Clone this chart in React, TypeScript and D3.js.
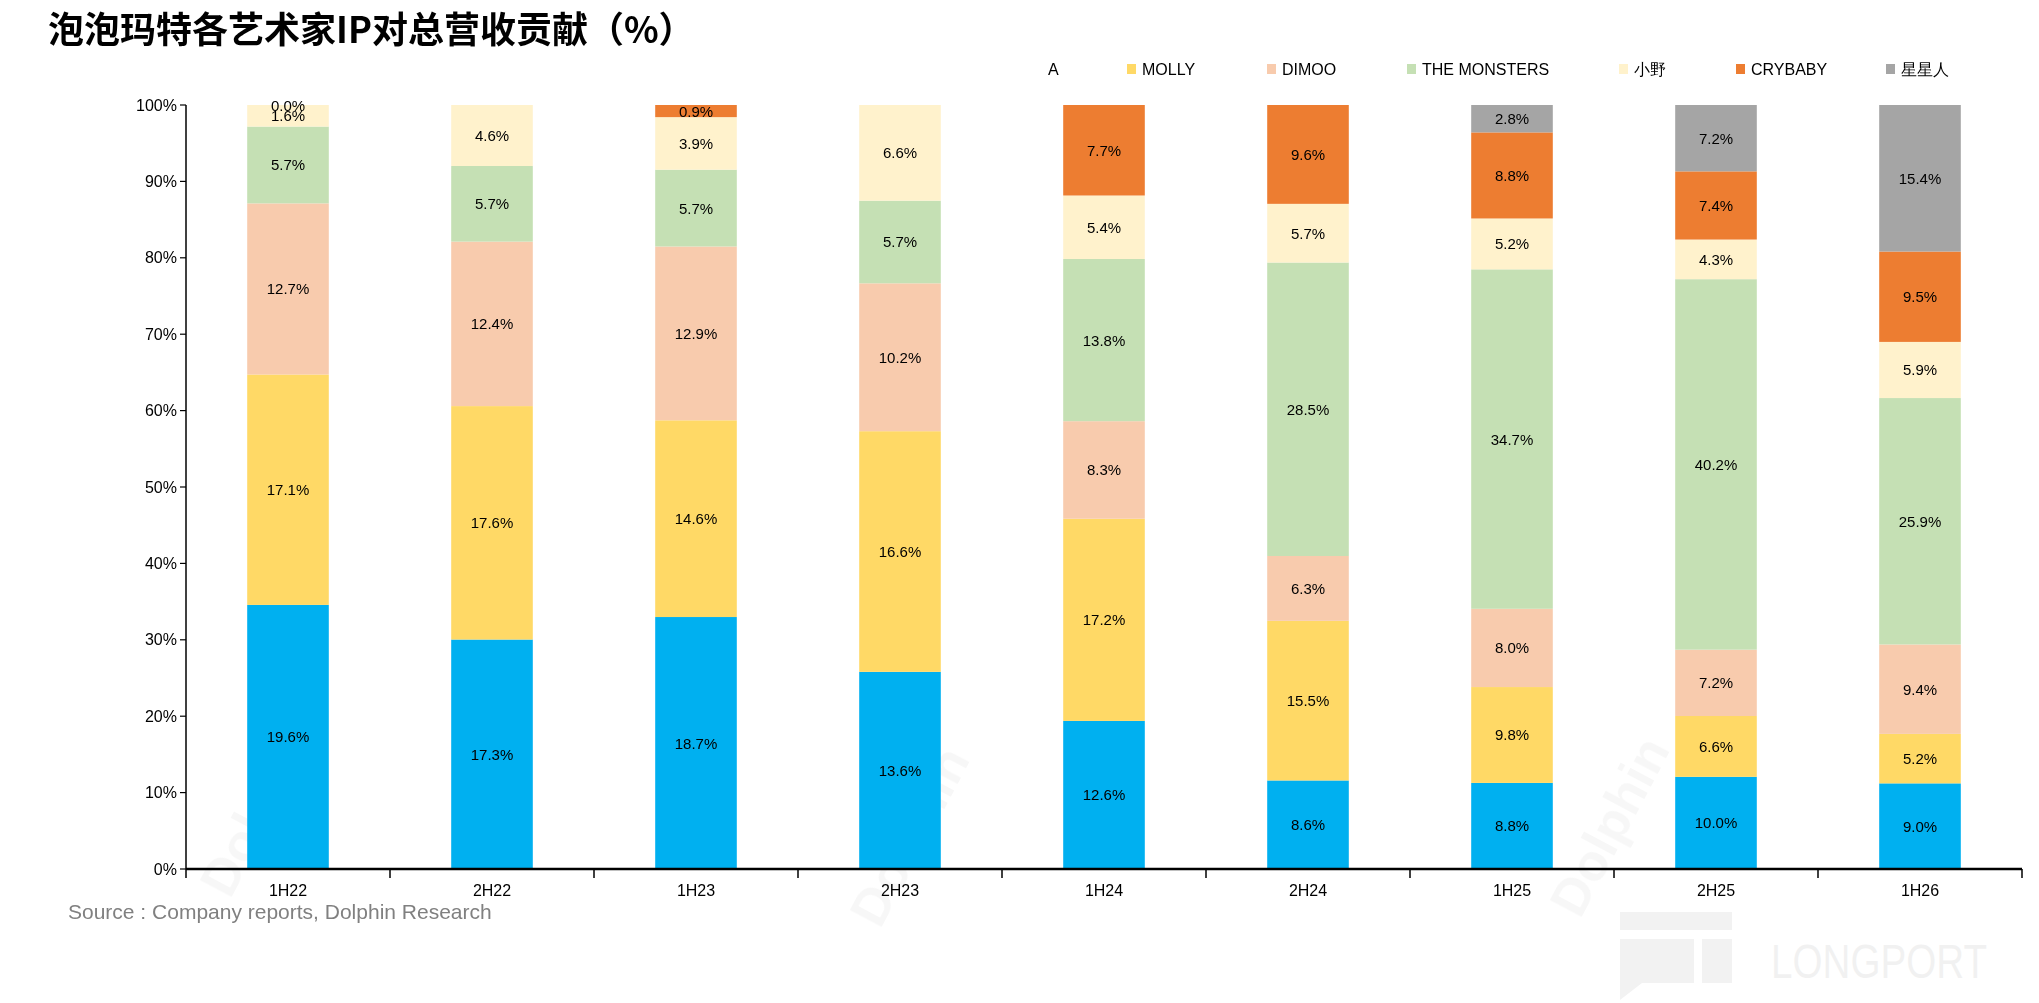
import React from "react";
import * as d3 from "d3";

const title = "泡泡玛特各艺术家IP对总营收贡献（%）";
const source = "Source : Company reports, Dolphin Research";
const categories = ["1H22", "2H22", "1H23", "2H23", "1H24", "2H24", "1H25", "2H25", "1H26"];
const seriesNames = ["A", "MOLLY", "DIMOO", "THE MONSTERS", "小野", "CRYBABY", "星星人"];
const colors = ["#00B0F0", "#FFD966", "#F8CBAD", "#C5E0B4", "#FFF2CC", "#ED7D31", "#A5A5A5"];
const labubu = [19.6, 17.3, 18.7, 13.6, 12.6, 8.6, 8.8, 10.0, 9.0];
const molly = [17.1, 17.6, 14.6, 16.6, 17.2, 15.5, 9.8, 6.6, 5.2];
const dimoo = [12.7, 12.4, 12.9, 10.2, 8.3, 6.3, 8.0, 7.2, 9.4];
const monsters = [5.7, 5.7, 5.7, 5.7, 13.8, 28.5, 34.7, 40.2, 25.9];
const xiaoye = [1.6, 4.6, 3.9, 6.6, 5.4, 5.7, 5.2, 4.3, 5.9];
const crybaby: (number | null)[] = [0.0, null, 0.9, null, 7.7, 9.6, 8.8, 7.4, 9.5];
const xingxingren: (number | null)[] = [null, null, null, null, null, null, 2.8, 7.2, 15.4];
const yTicks = [0, 10, 20, 30, 40, 50, 60, 70, 80, 90, 100];

const seriesData: (number | null)[][] = [labubu, molly, dimoo, monsters, xiaoye, crybaby, xingxingren];

const W = 2039;
const H = 1003;
const left = 186, right = 2022, top = 105, bottom = 869;

export default function App() {
  const x = d3.scaleBand<string>().domain(categories).range([left, right]).paddingInner(0.6).paddingOuter(0.3);
  const y = d3.scaleLinear().domain([0, 100]).range([bottom, top]);

  const rows = categories.map((c, i) => {
    const row: Record<string, number> = {};
    const total = d3.sum(seriesData, (s) => s[i] ?? 0);
    seriesNames.forEach((n, k) => {
      row[n] = ((seriesData[k][i] ?? 0) / total) * 100;
    });
    return row;
  });
  const stack = d3.stack<Record<string, number>>().keys(seriesNames);
  const stacked = stack(rows);

  const font = "'Liberation Sans', Arial, Helvetica, sans-serif";
  const step = x.step();

  const legendX = [1048, 1127, 1267, 1407, 1619, 1736, 1886];

  return (
    <svg width={W} height={H} style={{ display: "block", position: "absolute", left: 0, top: 0, background: "#fff" }}>
      {/* watermarks */}
      <g fill="#000" opacity={0.035} fontFamily={font} fontWeight="bold">
        {[[230, 900], [880, 930], [1580, 920]].map(([wx, wy], i) => (
          <text key={i} x={wx} y={wy} fontSize={52} transform={`rotate(-62 ${wx} ${wy})`}>Dolphin</text>
        ))}
      </g>
      <g opacity={0.05} fill="#000">
        <rect x={1620} y={912} width={112} height={18} />
        <rect x={1620} y={939} width={74} height={44} />
        <rect x={1702} y={939} width={30} height={44} />
        <path d="M1620,983 L1620,1000 L1642,983 Z" />
      </g>
      <text x={1771} y={978} fontFamily={font} fontSize={48} textLength={216} lengthAdjust="spacingAndGlyphs" fill="#000" opacity={0.05}>LONGPORT</text>

      {/* title */}
      <text x={48} y={43} fontFamily="'Noto Sans CJK SC', sans-serif" fontWeight="bold" fontSize={36} fill="#000">{title}</text>

      {/* legend */}
      <g fontFamily={font} fontSize={16} fill="#000">
        {seriesNames.map((n, k) => (
          <g key={n}>
            {k > 0 && <rect x={legendX[k]} y={64} width={9} height={10} fill={colors[k]} />}
            <text x={k > 0 ? legendX[k] + 15 : legendX[k]} y={69} dominantBaseline="central">{n}</text>
          </g>
        ))}
      </g>

      {/* bars */}
      {stacked.map((layer, k) => (
        <g key={layer.key} fill={colors[k]}>
          {layer.map((d, i) =>
            seriesData[k][i] === null ? null : (
              <rect key={i} x={x(categories[i])!} width={x.bandwidth()} y={y(d[1])} height={Math.max(0, y(d[0]) - y(d[1]))} />
            )
          )}
        </g>
      ))}
      {/* labels */}
      <g fontFamily={font} fontSize={15} fill="#000" textAnchor="middle">
        {stacked.map((layer, k) =>
          layer.map((d, i) =>
            seriesData[k][i] === null ? null : (
              <text key={`${k}-${i}`} x={x(categories[i])! + x.bandwidth() / 2} y={y((d[0] + d[1]) / 2)} dominantBaseline="central">
                {(seriesData[k][i] as number).toFixed(1)}%
              </text>
            )
          )
        )}
      </g>

      {/* y axis */}
      <line x1={left} x2={left} y1={top} y2={bottom} stroke="#000" strokeWidth={1.5} />
      {yTicks.map((t) => (
        <g key={t}>
          <line x1={left - 6} x2={left} y1={y(t)} y2={y(t)} stroke="#000" strokeWidth={1.2} />
          <text x={left - 9} y={y(t)} textAnchor="end" dominantBaseline="central" fontFamily={font} fontSize={16} fill="#000">{t}%</text>
        </g>
      ))}

      {/* x axis */}
      <line x1={left} x2={right} y1={bottom} y2={bottom} stroke="#000" strokeWidth={2.5} />
      {d3.range(categories.length + 1).map((i) => (
        <line key={i} x1={left + i * step} x2={left + i * step} y1={bottom} y2={bottom + 9} stroke="#000" strokeWidth={1.5} />
      ))}
      {categories.map((c) => (
        <text key={c} x={x(c)! + x.bandwidth() / 2} y={890} textAnchor="middle" dominantBaseline="central" fontFamily={font} fontSize={16} fill="#000">{c}</text>
      ))}

      {/* source */}
      <text x={68} y={911} dominantBaseline="central" fontFamily={font} fontSize={21} fill="#808080">{source}</text>
    </svg>
  );
}
